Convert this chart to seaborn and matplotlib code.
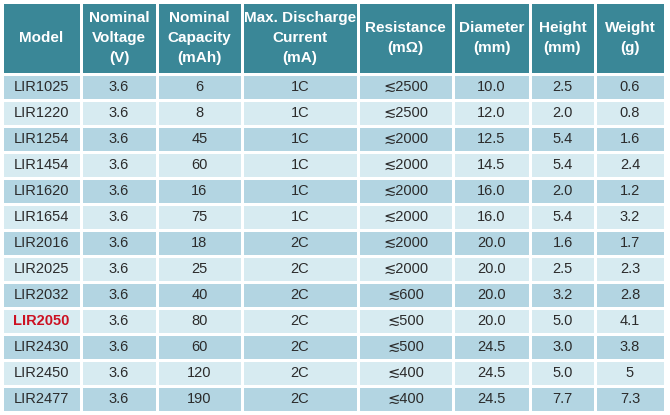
import numpy as np
import pandas as pd
import matplotlib
matplotlib.use('Agg')
import matplotlib.pyplot as plt
import seaborn as sns
from matplotlib.colors import ListedColormap

# Table data
headers = ['Model', 'Nominal\nVoltage\n(V)', 'Nominal\nCapacity\n(mAh)',
           'Max. Discharge\nCurrent\n(mA)', 'Resistance\n(m\u03a9)',
           'Diameter\n(mm)', 'Height\n(mm)', 'Weight\n(g)']
models = ['LIR1025', 'LIR1220', 'LIR1254', 'LIR1454', 'LIR1620', 'LIR1654', 'LIR2016',
          'LIR2025', 'LIR2032', 'LIR2050', 'LIR2430', 'LIR2450', 'LIR2477']
voltage = ['3.6'] * 13
capacity = ['6', '8', '45', '60', '16', '75', '18', '25', '40', '80', '60', '120', '190']
discharge = ['1C', '1C', '1C', '1C', '1C', '1C', '2C', '2C', '2C', '2C', '2C', '2C', '2C']
resistance = ['\u2272' + v for v in ['2500', '2500', '2000', '2000', '2000', '2000', '2000',
                                     '2000', '600', '500', '500', '400', '400']]
diameter = ['10.0', '12.0', '12.5', '14.5', '16.0', '16.0', '20.0', '20.0', '20.0', '20.0',
            '24.5', '24.5', '24.5']
height = ['2.5', '2.0', '5.4', '5.4', '2.0', '5.4', '1.6', '2.5', '3.2', '5.0', '3.0', '5.0', '7.7']
weight = ['0.6', '0.8', '1.6', '2.4', '1.2', '3.2', '1.7', '2.3', '2.8', '4.1', '3.8', '5', '7.3']
highlight = 'LIR2050'

columns = [models, voltage, capacity, discharge, resistance, diameter, height, weight]

# Layout (pixels)
col_widths = [79, 76, 85, 116, 95, 77, 65, 70]
header_h, body_h = 72, 338

HEADER = '#3a8797'
DARK = '#b3d5e2'
LIGHT = '#d7ebf1'
TEXT = '#2b2b2b'

sns.set_theme(style='white')
plt.rcParams['font.family'] = ['Liberation Sans', 'DejaVu Sans']

fig = plt.figure(figsize=(6.7, 4.15), dpi=100)
gs = fig.add_gridspec(2, len(columns), width_ratios=col_widths,
                      height_ratios=[header_h, body_h],
                      left=2 / 670, right=665 / 670, top=1 - 2 / 415, bottom=1 - 412 / 415,
                      wspace=0, hspace=0)

n = len(models)
stripe = np.array([[i % 2] for i in range(n)])

for j, (head, vals) in enumerate(zip(headers, columns)):
    axh = fig.add_subplot(gs[0, j])
    sns.heatmap(np.zeros((1, 1)), ax=axh, cmap=ListedColormap([HEADER]), cbar=False,
                linewidths=1.0, linecolor='white', xticklabels=False, yticklabels=False)
    axh.text(0.5, 0.5, head, ha='center', va='center', color='white', fontsize=11,
             fontweight='bold', linespacing=1.55)

    axb = fig.add_subplot(gs[1, j])
    df = pd.DataFrame({'v': vals})
    sns.heatmap(stripe, ax=axb, cmap=ListedColormap([DARK, LIGHT]), cbar=False,
                vmin=0, vmax=1, linewidths=1.0, linecolor='white',
                annot=df[['v']].values, fmt='', annot_kws={'fontsize': 10.5, 'color': TEXT},
                xticklabels=False, yticklabels=False)
    for t in axb.texts:
        if t.get_text() == highlight:
            t.set_color('#cc1122')
            t.set_fontweight('bold')

fig.savefig('out.png', dpi=100)
